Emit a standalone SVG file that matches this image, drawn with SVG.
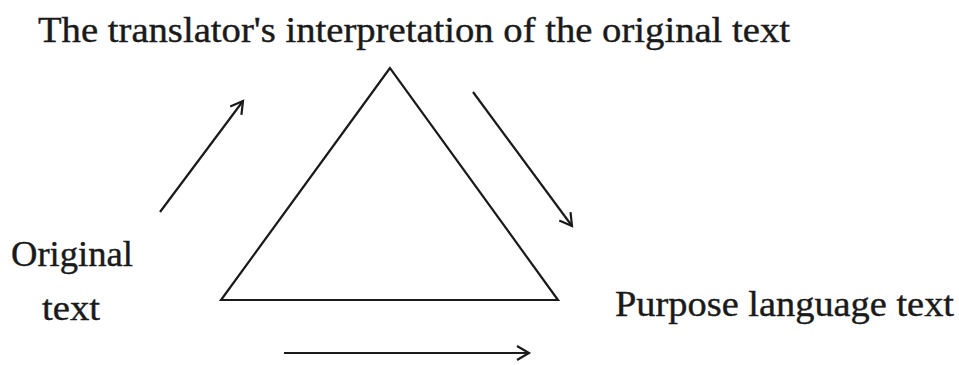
<svg xmlns="http://www.w3.org/2000/svg" width="959" height="365" viewBox="0 0 959 365">
<style>
.t{font-family:"Liberation Serif","DejaVu Serif",serif;font-size:36px;fill:#1a1a1a;stroke:#1a1a1a;stroke-width:0.4}
.ln{stroke:#1a1a1a;stroke-width:2.2;fill:none}
</style>
<defs>
<marker id="ah" viewBox="0 0 20 20" refX="16" refY="10" markerWidth="20" markerHeight="20" markerUnits="userSpaceOnUse" orient="auto">
<path d="M4,3 L16,10 L4,17" fill="none" stroke="#1a1a1a" stroke-width="2.2" stroke-linejoin="miter"/>
</marker>
</defs>
<rect width="959" height="365" fill="#fff"/>
<g id="title"><text class="t" x="38" y="42" textLength="752" lengthAdjust="spacingAndGlyphs">The translator's interpretation of the original text</text></g>
<g id="original"><text class="t" x="11" y="266" textLength="122" lengthAdjust="spacingAndGlyphs">Original</text><text class="t" x="42" y="320" textLength="58" lengthAdjust="spacingAndGlyphs">text</text></g>
<g id="purpose"><text class="t" x="615" y="316" textLength="339" lengthAdjust="spacingAndGlyphs">Purpose language text</text></g>
<g id="triangle"><polygon class="ln" points="390,68 221,300 558,300"/></g>
<g id="connectors">
<line class="ln" x1="160" y1="212" x2="243" y2="101" marker-end="url(#ah)"/>
<line class="ln" x1="473" y1="92" x2="572" y2="226" marker-end="url(#ah)"/>
<line class="ln" x1="284" y1="353" x2="529" y2="353" marker-end="url(#ah)"/>
</g>
</svg>
